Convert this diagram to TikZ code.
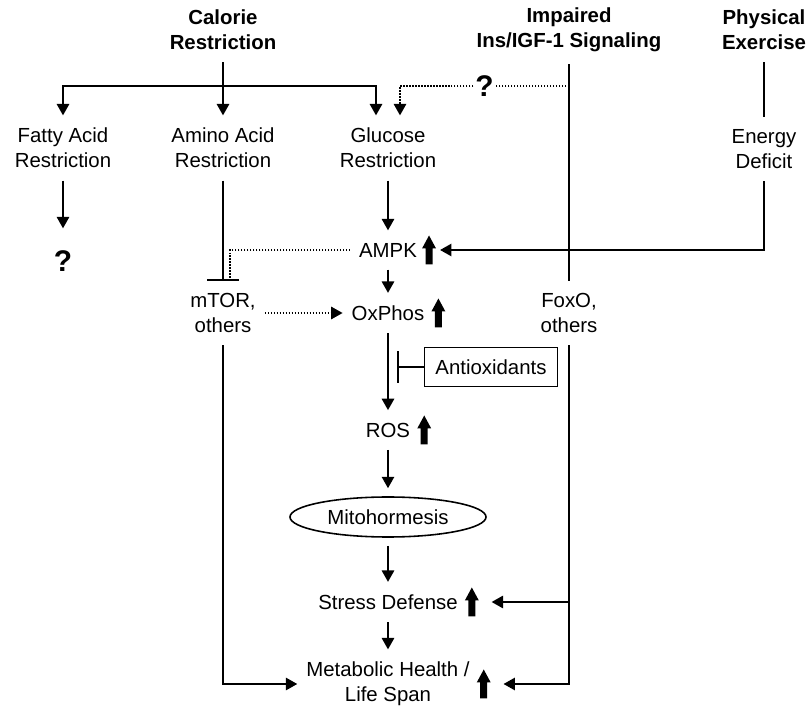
\documentclass[tikz,border=0pt]{standalone}
\usepackage{fontspec}
\setmainfont{Liberation Sans}
\usetikzlibrary{positioning,arrows.meta,shapes.geometric}

\begin{document}
\begin{tikzpicture}[
  lbl/.style={align=center, inner xsep=5pt, inner ysep=7pt, font=\fontsize{11.6}{14.2}\selectfont},
  title/.style={lbl, font=\fontsize{11.6}{14.2}\selectfont\bfseries},
  qmark/.style={inner sep=0.5pt, font=\fontsize{17}{20}\selectfont\bfseries},
  box/.style={draw, line width=0.9pt, minimum width=2.66cm, minimum height=0.78cm, font=\fontsize{11.6}{14.2}\selectfont},
  oval/.style={ellipse, draw, line width=0.9pt, minimum width=3.92cm, minimum height=0.80cm, inner sep=0pt, outer sep=5pt, font=\fontsize{11.6}{14.2}\selectfont},
  upar/.style={minimum width=0.30cm, minimum height=0.58cm, inner sep=0pt, outer sep=2pt,
    path picture={\fill (path picture bounding box.south) ++(-0.07cm,0cm) -- ++(0cm,0.32cm) -- ++(-0.07cm,0cm) -- ++(0.14cm,0.26cm) -- ++(0.14cm,-0.26cm) -- ++(-0.07cm,0cm) -- ++(0cm,-0.32cm) -- cycle;}},
  line/.style={line width=1.1pt},
  arr/.style={line width=1.1pt, -{Triangle[length=6.5pt,width=7pt]}},
  inh/.style={line width=1.1pt, -{Bar[width=0.64cm]}},
  dotline/.style={line width=1pt, dash pattern=on 0.8pt off 0.9pt},
  dotarr/.style={dotline, -{Triangle[length=6.5pt,width=7pt]}}
]
\useasboundingbox (0,0) rectangle (16.18,14.22);

\node[title] (cr) at (4.46,13.63) {Calorie\\Restriction};
\node[title] (iis) at (11.38,13.63) {Impaired\\Ins/IGF-1 Signaling};
\node[title] (pe) at (15.28,13.63) {Physical\\Exercise};

\node[lbl] (far) at (1.26,11.26) {Fatty Acid\\Restriction};
\node[lbl] (aar) at (4.46,11.26) {Amino Acid\\Restriction};
\node[lbl] (glr) at (7.76,11.26) {Glucose\\Restriction};
\node[lbl] (ed) at (15.28,11.24) {Energy\\Deficit};
\node[qmark] (q1) at (1.26,9.00) {?};

\node[lbl] (ampk) at (7.76,9.22) {AMPK};
\node[upar, right=-0.16cm of ampk] (ampkup) {};
\node[lbl] (mtor) at (4.46,7.96) {mTOR,\\others};
\node[lbl] (oxphos) at (7.76,7.96) {OxPhos};
\node[upar, right=-0.12cm of oxphos] (oxphosup) {};
\node[lbl] (foxo) at (11.38,7.96) {FoxO,\\others};
\node[box] (antiox) at (9.82,6.88) {Antioxidants};
\node[lbl] (ros) at (7.76,5.62) {ROS};
\node[upar, right=-0.12cm of ros] (rosup) {};
\node[oval] (mito) at (7.76,3.88) {Mitohormesis};
\node[lbl] (sd) at (7.76,2.18) {Stress Defense};
\node[upar, right=-0.12cm of sd] (sdup) {};
\node[lbl] (mh) at (7.76,0.54) {Metabolic Health /\\Life Span};
\node[upar, right=-0.12cm of mh] (mhup) {};

\coordinate (split) at (4.46,12.50);
\coordinate (blk) at (7.94,6.88);

\draw[arr] (cr) -- (aar);
\draw[arr] (split) -| (far);
\draw[arr] (split) -| ([xshift=-0.24cm]glr.north);
\draw[dotarr] (iis |- split) -| node[qmark, fill=white, pos=0.25] (q2) {?} ([xshift=0.24cm]glr.north);
\draw[line] (iis) -- (foxo);
\draw[line] (pe) -- (ed);
\draw[arr] (ed) |- (ampkup);
\draw[arr, shorten >=0.42cm] (far) -- (q1);
\draw[inh] (aar) -- (mtor);
\draw[dotline] (ampk) -| ([xshift=0.14cm]mtor.north);
\draw[arr] (glr) -- (ampk);
\draw[arr] (ampk) -- (oxphos);
\draw[dotarr] (mtor) -- (oxphos);
\draw[arr] (oxphos) -- (ros);
\draw[inh] (antiox) -- (blk);
\draw[arr] (ros) -- (mito);
\draw[arr] (mito) -- (sd);
\draw[arr] (sd) -- (mh);
\draw[arr] (mtor) |- (mh);
\draw[arr, shorten >=5pt] (foxo) |- (mhup);
\draw[arr, shorten >=5pt] (foxo |- sdup) -- (sdup);
\end{tikzpicture}
\end{document}
